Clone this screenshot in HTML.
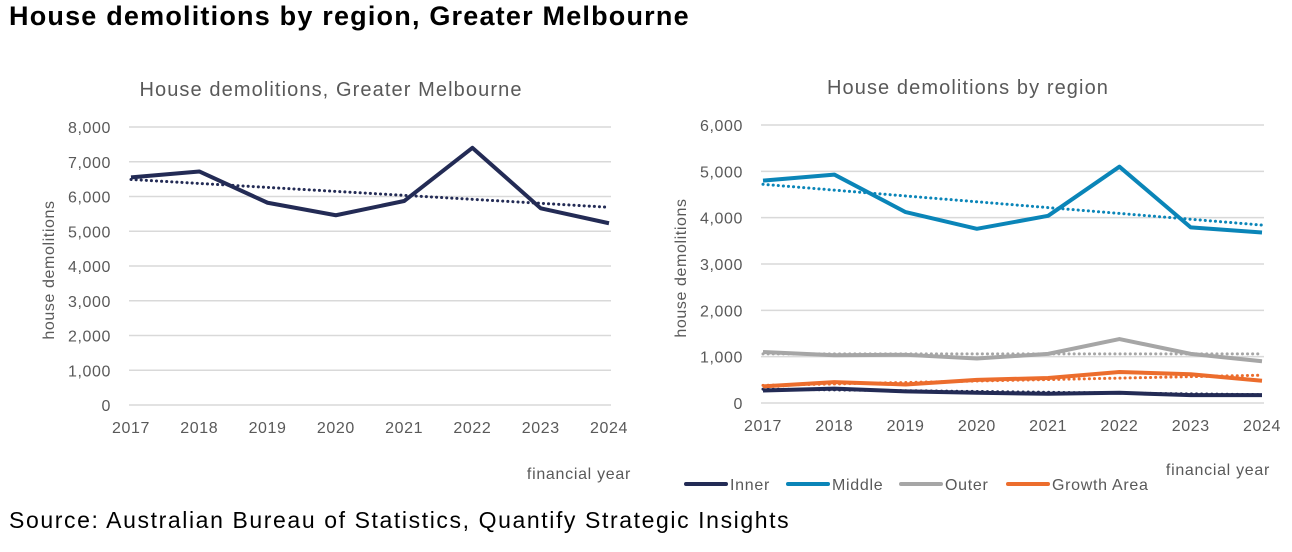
<!DOCTYPE html>
<html><head><meta charset="utf-8"><style>
body{margin:0;background:#fff;width:1292px;height:552px;overflow:hidden;font-family:"Liberation Sans",sans-serif}
#title{position:absolute;left:9px;top:1px;font-size:27px;font-weight:bold;color:#000;letter-spacing:1.2px}
#source{position:absolute;left:9px;top:507px;font-size:23px;color:#000;letter-spacing:1.6px}
svg{position:absolute;left:0;top:0}
</style></head><body>
<div id="title">House demolitions by region, Greater Melbourne</div>
<div id="source">Source: Australian Bureau of Statistics, Quantify Strategic Insights</div>
<svg id="chart" width="1292" height="552"></svg>
<script>
const years=["2017","2018","2019","2020","2021","2022","2023","2024"];
const totalVals=[6550,6720,5820,5460,5870,7400,5660,5230];
const totalTrend=[6490,5690];
const leftTicks=[0,1000,2000,3000,4000,5000,6000,7000,8000];
const rightTicks=[0,1000,2000,3000,4000,5000,6000];
const innerVals=[270,310,250,220,200,220,170,170];
const middleVals=[4800,4930,4120,3760,4040,5100,3790,3680];
const outerVals=[1100,1030,1040,960,1060,1380,1060,900];
const growthVals=[360,450,400,500,540,670,620,480];
const innerTrend=[300,180];
const middleTrend=[4720,3840];
const outerTrend=[1060,1060];
const growthTrend=[380,600];
const seriesNames=["Inner","Middle","Outer","Growth Area"];
const colors=["#232b55","#0a85b8","#a6a6a6","#ec6d2d"];

const svg=document.getElementById('chart');
const NS='http://www.w3.org/2000/svg';
function mk(t,a,p){const e=document.createElementNS(NS,t);for(const k in a)e.setAttribute(k,a[k]);(p||svg).appendChild(e);return e;}
function txt(s,a,p){const e=mk('text',a,p);e.textContent=s;return e;}

function panel(name,x0,x1,y0,yTop,maxV,ticks,title,titleX,titleY,series,trends,cols){
  const g=mk('g',{});
  
  
  const xs=i=>x0+(x1-x0)*i/(years.length-1);
  const ys=v=>y0-(y0-yTop)*v/maxV;
  const t=txt(title,{x:titleX,y:titleY,'text-anchor':'middle','font-size':20,fill:'#595959','letter-spacing':1.1},g);
  
  
  ticks.forEach(v=>{
    const l=mk('line',{x1:x0-2,x2:x1+2,y1:ys(v),y2:ys(v),stroke:'#d9d9d9','stroke-width':1.5},g);
    
    
    const tl=txt(v.toLocaleString('en-US'),{x:x0-20,y:ys(v)+6,'text-anchor':'end','font-size':16,fill:'#595959','letter-spacing':0.6},g);
    
    
  });
  years.forEach((y,i)=>{
    const tl=txt(y,{x:xs(i),y:y0+28,'text-anchor':'middle','font-size':16,fill:'#595959','letter-spacing':0.6},g);
    
    
  });
  const yt=txt('house demolitions',{x:0,y:0,transform:`translate(${x0-77},${(y0+yTop)/2+4}) rotate(-90)`,'text-anchor':'middle','font-size':16,fill:'#595959','letter-spacing':0.6},g);
  
  
  series.forEach((s,k)=>{
    const tr=trends[k];
    const d=mk('line',{x1:xs(0),y1:ys(tr[0]),x2:xs(years.length-1),y2:ys(tr[1]),stroke:cols[k],'stroke-width':3,'stroke-dasharray':'0.1 5','stroke-linecap':'round'},g);
    
    
  });
  series.forEach((s,k)=>{
    const p=mk('polyline',{points:s.map((v,i)=>xs(i)+','+ys(v)).join(' '),fill:'none',stroke:cols[k],'stroke-width':4,'stroke-linejoin':'round'},g);
    
    
  });
  return g;
}
panel('left-chart',131,609,405,127,8000,leftTicks,'House demolitions, Greater Melbourne',331,96,[totalVals],[totalTrend],['#232b55']);
panel('right-chart',763,1262,403,125,6000,rightTicks,'House demolitions by region',968,94,[outerVals,growthVals,innerVals,middleVals],[outerTrend,growthTrend,innerTrend,middleTrend],[colors[2],colors[3],colors[0],colors[1]]);
const x1=txt('financial year',{x:631,y:479,'text-anchor':'end','font-size':16,fill:'#595959','letter-spacing':0.7});


const x2=txt('financial year',{x:1270,y:475,'text-anchor':'end','font-size':16,fill:'#595959','letter-spacing':0.7});


const legX=[686,788,901,1008];
seriesNames.forEach((n,k)=>{
  const g=mk('g',{});
  
  
  mk('line',{x1:legX[k],x2:legX[k]+40,y1:484,y2:484,stroke:colors[k],'stroke-width':4,'stroke-linecap':'round'},g);
  txt(n,{x:legX[k]+44,y:490,'font-size':16,fill:'#595959','letter-spacing':0.7},g);
});
</script>
</body></html>
